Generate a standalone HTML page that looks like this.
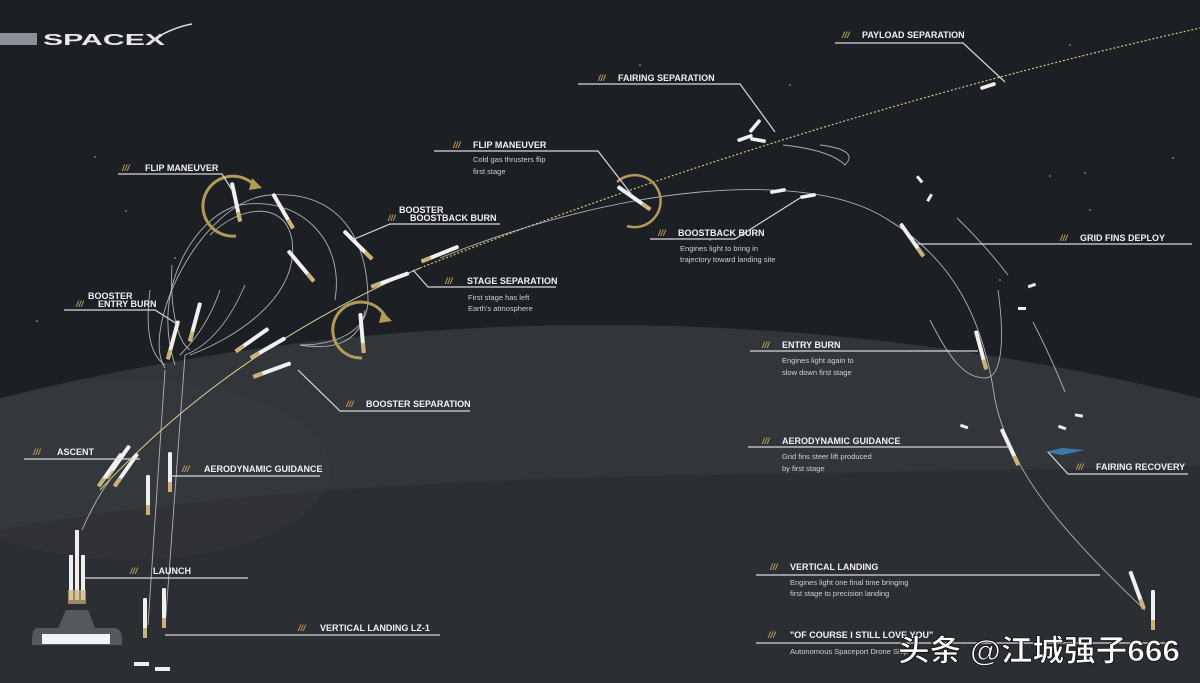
<!DOCTYPE html>
<html><head><meta charset="utf-8"><style>
html,body{margin:0;padding:0;background:#1c1f23;width:1200px;height:683px;overflow:hidden;}
svg{display:block;overflow:hidden}
.t{font-family:"Liberation Sans",sans-serif;font-weight:bold;font-size:9px;fill:#f2f2f2;}
.s{font-family:"Liberation Sans",sans-serif;font-size:7.5px;fill:#cfd0d2;}
.g{font-family:"Liberation Sans",sans-serif;font-weight:bold;font-size:9px;fill:#b59a58;font-style:italic;}
.u{stroke:#d8d8d8;stroke-width:1.2;fill:none}
.tr{stroke:#c9c9c9;stroke-width:0.9;fill:none;opacity:.85}
</style></head><body>
<svg width="1200" height="683" viewBox="0 0 1200 683" xmlns="http://www.w3.org/2000/svg">
<defs>
<g id="rk"><rect x="-2" y="-20" width="4" height="40" rx="1.5" fill="#f0f0f0"/><rect x="-2" y="10" width="4" height="10" fill="#c9b27a"/></g>
<g id="rs"><rect x="-1.8" y="-8" width="3.6" height="16" rx="1.5" fill="#f0f0f0"/></g>
</defs>
<rect width="1200" height="683" fill="#1c1f23"/>
<circle cx="600" cy="2825" r="2500" fill="#323539"/>
<path d="M0,530 C150,500 400,480 700,475 C900,472 1100,468 1200,466 L1200,683 L0,683Z" fill="#2b2e32"/>
<ellipse cx="130" cy="470" rx="200" ry="90" fill="#3a3d41" opacity=".3"/>
<g fill="#777"><circle cx="95" cy="157" r="1"/><circle cx="126" cy="211" r="1"/><circle cx="175" cy="258" r="1"/><circle cx="37" cy="321" r="1"/><circle cx="640" cy="65" r="1"/><circle cx="790" cy="85" r="1"/><circle cx="1070" cy="45" r="1"/><circle cx="1050" cy="176" r="1"/><circle cx="1085" cy="173" r="1"/><circle cx="1173" cy="158" r="1"/><circle cx="1000" cy="280" r="1"/><circle cx="710" cy="240" r="1"/><circle cx="1090" cy="210" r="1"/></g>
<rect x="0" y="33" width="37" height="12" fill="#8a9096"/>
<text x="43" y="45" textLength="122" lengthAdjust="spacingAndGlyphs" style="font-family:'Liberation Sans',sans-serif;font-weight:bold;font-size:16px;fill:#e8e8e8">SPACEX</text>
<path d="M150,42 Q170,28 192,24" stroke="#ddd" stroke-width="1.5" fill="none"/>

<path d="M82,530 Q95,500 110,480" class="tr" stroke="#d9cf9a"/>
<path d="M100,490 Q230,350 420,268" stroke="#d9cf9a" stroke-width="1" fill="none"/>
<path d="M420,268 Q800,118 1200,28" stroke="#d8c580" stroke-width="1.2" stroke-dasharray="2,2" fill="none"/>
<path d="M440,258 C620,185 800,170 880,215 C960,260 985,330 995,400 C1010,470 1060,530 1145,610" class="tr"/>
<path d="M930,320 C950,360 965,378 985,378 C1002,378 1005,340 998,290" class="tr"/>
<path d="M820,145 Q860,150 845,165" class="tr"/>
<path d="M783,145 Q830,150 845,165" class="tr"/>
<path d="M957,218 Q985,245 1008,275" class="tr"/>
<path d="M1033,322 Q1050,355 1065,392" class="tr"/>
<path d="M165,368 C140,330 200,200 270,195 C340,190 368,240 368,300 C368,335 330,345 300,345" class="tr"/>
<path d="M175,365 C150,290 195,215 240,205 C300,195 345,240 335,300" class="tr"/>
<path d="M190,355 C230,340 300,300 292,240 C285,200 240,205 210,235" class="tr"/>
<path d="M150,290 C145,330 150,355 165,365" class="tr"/>
<path d="M172,265 C170,300 175,340 190,350" class="tr"/>
<path d="M245,285 C230,320 210,345 185,355" class="tr"/>
<path d="M220,290 C210,320 195,340 180,355" class="tr"/>
<path d="M300,345 C330,350 360,345 365,310" class="tr"/>
<path d="M165,370 L148,625" class="tr"/>
<path d="M185,355 L165,628" class="tr"/>

<path d="M236,236 A30,30 0 1 1 252,183" stroke="#b39a5c" stroke-width="3" fill="none"/>
<path d="M252,178 L262,188 L249,190Z" fill="#b39a5c"/>
<path d="M362,358 A28,28 0 1 1 385,316" stroke="#b39a5c" stroke-width="3" fill="none"/>
<path d="M382,311 L392,321 L379,323Z" fill="#b39a5c"/>
<path d="M617,182 A26,26 0 1 1 627,226" stroke="#b39a5c" stroke-width="2.5" fill="none"/>

<use href="#rk" transform="translate(236,202) rotate(-12)"/>
<use href="#rk" transform="translate(283,211) rotate(-30)"/>
<use href="#rk" transform="translate(301,266) rotate(-40)"/>
<use href="#rk" transform="translate(358,245) rotate(-45)"/>
<use href="#rk" transform="translate(362,333) rotate(-5)"/>
<use href="#rk" transform="translate(173,340) rotate(15)"/>
<use href="#rk" transform="translate(195,322) rotate(15)"/>
<use href="#rk" transform="translate(252,340) rotate(55)"/>
<use href="#rk" transform="translate(268,348) rotate(60)"/>
<use href="#rk" transform="translate(272,370) rotate(70)"/>
<use href="#rk" transform="translate(390,280) rotate(70)"/>
<use href="#rk" transform="translate(440,254) rotate(68)"/>
<use href="#rk" transform="translate(118,462) rotate(35)"/>
<use href="#rk" transform="translate(126,470) rotate(35)"/>
<use href="#rk" transform="translate(110,470) rotate(35)"/>
<use href="#rk" transform="translate(148,495) rotate(0)"/>
<use href="#rk" transform="translate(170,472) rotate(0)"/>
<use href="#rk" transform="translate(145,618) rotate(0)"/>
<use href="#rk" transform="translate(164,608) rotate(0)"/>
<use href="#rk" transform="translate(634,198) rotate(-55)"/>
<use href="#rs" transform="translate(778,191) rotate(80)"/>
<use href="#rs" transform="translate(808,196) rotate(80)"/>
<use href="#rk" transform="translate(912,240) rotate(-35)"/>
<use href="#rk" transform="translate(981,350) rotate(-15)"/>
<use href="#rk" transform="translate(1010,447) rotate(-25)"/>
<use href="#rk" transform="translate(1137,590) rotate(-20)"/>
<use href="#rk" transform="translate(1153,610) rotate(0)"/>
<use href="#rs" transform="translate(988,86) rotate(72)"/>
<use href="#rs" transform="translate(745,138) rotate(70)"/>
<use href="#rs" transform="translate(755,126) rotate(40)"/>
<use href="#rs" transform="translate(758,140) rotate(100)"/>
<g fill="#eee"><rect x="918" y="175" width="3" height="8" transform="rotate(-40 920 179)"/><rect x="928" y="194" width="3" height="8" transform="rotate(30 930 198)"/><rect x="1028" y="284" width="8" height="3" transform="rotate(-20 1032 286)"/><rect x="1018" y="307" width="8" height="3"/><rect x="1075" y="414" width="8" height="3" transform="rotate(10 1079 415)"/><rect x="1058" y="426" width="8" height="3" transform="rotate(20 1062 428)"/><rect x="960" y="425" width="8" height="3" transform="rotate(20 964 427)"/></g>
<path d="M38,628 Q32,628 32,640 L32,645 L122,645 L122,640 Q122,628 114,628 L95,628 L88,610 L66,610 L58,628Z" fill="#55585c"/>
<rect x="42" y="634" width="68" height="10" fill="#f4f4f4"/>
<rect x="75" y="530" width="4" height="70" fill="#eee"/>
<rect x="69" y="555" width="4" height="45" fill="#eee"/>
<rect x="81" y="555" width="4" height="45" fill="#eee"/>
<rect x="68" y="590" width="18" height="14" fill="#c9b27a" opacity=".7"/>
<rect x="134" y="662" width="15" height="4" fill="#eee"/><rect x="155" y="667" width="15" height="4" fill="#eee"/>
<path d="M1045,452 L1062,448 L1085,450 L1062,455Z" fill="#3f79a8"/>

<g>
<text x="842" y="38" class="g">///</text><text x="862" y="38" class="t">PAYLOAD SEPARATION</text>
<path d="M835,43 H963 L1005,82" class="u"/>
<text x="598" y="81" class="g">///</text><text x="618" y="81" class="t">FAIRING SEPARATION</text>
<path d="M578,84 H740 L775,132" class="u"/>
<text x="453" y="148" class="g">///</text><text x="473" y="148" class="t">FLIP MANEUVER</text>
<path d="M434,151 H598 L632,195" class="u"/>
<text x="473" y="162" class="s">Cold gas thrusters flip</text><text x="473" y="174" class="s">first stage</text>
<text x="122" y="171" class="g">///</text><text x="145" y="171" class="t">FLIP MANEUVER</text>
<path d="M118,174 H222 L232,190" class="u"/>
<text x="399" y="213" class="t">BOOSTER</text>
<text x="388" y="221" class="g">///</text><text x="410" y="221" class="t">BOOSTBACK BURN</text>
<path d="M500,224 H390 L352,240" class="u"/>
<text x="445" y="284" class="g">///</text><text x="467" y="284" class="t">STAGE SEPARATION</text>
<path d="M556,287 H428 L413,270" class="u"/>
<text x="468" y="300" class="s">First stage has left</text><text x="468" y="311" class="s">Earth's atmosphere</text>
<text x="658" y="236" class="g">///</text><text x="678" y="236" class="t">BOOSTBACK BURN</text>
<path d="M650,239 H735 L800,198" class="u"/>
<text x="680" y="251" class="s">Engines light to bring in</text><text x="680" y="262" class="s">trajectory toward landing site</text>
<text x="1060" y="241" class="g">///</text><text x="1080" y="241" class="t">GRID FINS DEPLOY</text>
<path d="M915,244 H1192" class="u"/>
<text x="88" y="299" class="t">BOOSTER</text>
<text x="76" y="307" class="g">///</text><text x="98" y="307" class="t">ENTRY BURN</text>
<path d="M64,310 H155 L177,324" class="u"/>
<text x="346" y="407" class="g">///</text><text x="366" y="407" class="t">BOOSTER SEPARATION</text>
<path d="M470,411 H340 L298,370" class="u"/>
<text x="762" y="348" class="g">///</text><text x="782" y="348" class="t">ENTRY BURN</text>
<path d="M750,351 H978" class="u"/>
<text x="782" y="363" class="s">Engines light again to</text><text x="782" y="375" class="s">slow down first stage</text>
<text x="762" y="444" class="g">///</text><text x="782" y="444" class="t">AERODYNAMIC GUIDANCE</text>
<path d="M748,447 H1010" class="u"/>
<text x="782" y="459" class="s">Grid fins steer lift produced</text><text x="782" y="471" class="s">by first stage</text>
<text x="1076" y="470" class="g">///</text><text x="1096" y="470" class="t">FAIRING RECOVERY</text>
<path d="M1188,474 H1068 L1048,452" class="u"/>
<text x="33" y="455" class="g">///</text><text x="57" y="455" class="t">ASCENT</text>
<path d="M24,459 H140" class="u"/>
<text x="182" y="472" class="g">///</text><text x="204" y="472" class="t">AERODYNAMIC GUIDANCE</text>
<path d="M170,476 H320" class="u"/>
<text x="130" y="574" class="g">///</text><text x="153" y="574" class="t">LAUNCH</text>
<path d="M84,578 H248" class="u"/>
<text x="770" y="570" class="g">///</text><text x="790" y="570" class="t">VERTICAL LANDING</text>
<path d="M756,575 H1100" class="u"/>
<text x="790" y="585" class="s">Engines light one final time bringing</text><text x="790" y="596" class="s">first stage to precision landing</text>
<text x="298" y="631" class="g">///</text><text x="320" y="631" class="t">VERTICAL LANDING  LZ-1</text>
<path d="M165,635 H440" class="u"/>
<text x="768" y="638" class="g">///</text><text x="790" y="638" class="t">"OF COURSE I STILL LOVE YOU"</text>
<path d="M756,643 H1175" class="u"/>
<text x="790" y="654" class="s">Autonomous Spaceport Drone Ship</text>
</g>
<text x="898" y="661" textLength="282" lengthAdjust="spacingAndGlyphs" style="font-family:'Liberation Sans','Noto Sans CJK SC',sans-serif;font-weight:bold;font-size:30px;fill:#fff;stroke:#111;stroke-width:0.8">头条 @江城强子666</text>
</svg>
</body></html>
